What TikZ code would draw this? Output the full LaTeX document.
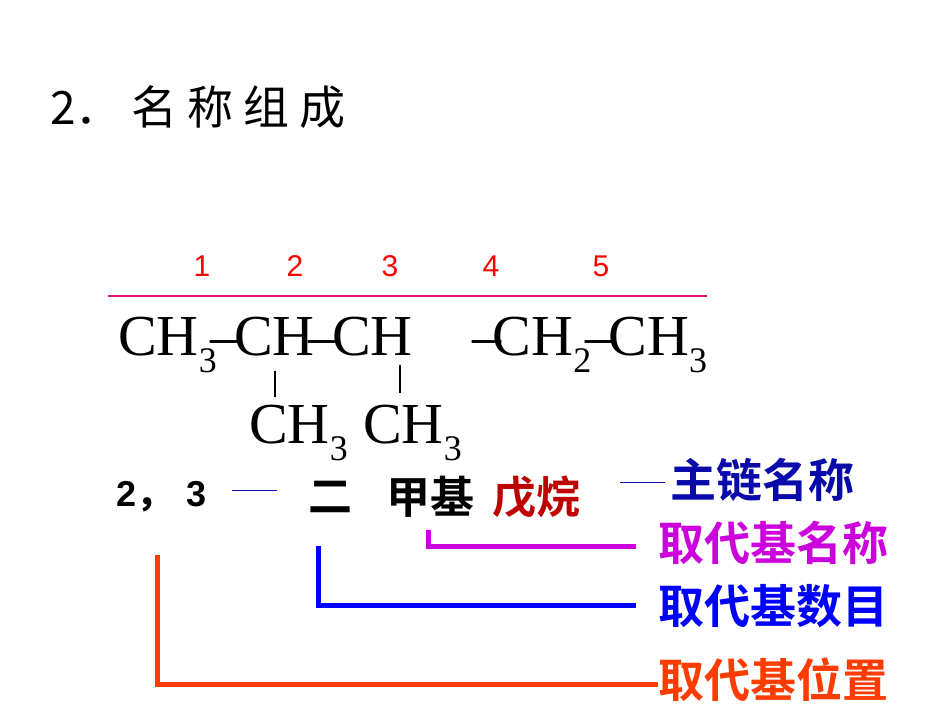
\documentclass[tikz,border=0pt]{standalone}
\usepackage{fontspec}
\setmainfont{Liberation Serif}
\newfontfamily\cjk{Noto Sans CJK SC}
\newfontfamily\cjkb{Noto Sans CJK SC Bold}
\newfontfamily\lsans{Liberation Sans}
\newcommand{\sbs}[1]{\raisebox{-0.3em}{\fontsize{36}{36}\selectfont #1}}
\newcommand{\bnd}{\kern-0.1em–\kern-0.1em}
\definecolor{dkblue}{RGB}{10,10,170}
\definecolor{mag}{RGB}{204,0,220}
\definecolor{orng}{RGB}{255,60,0}
\definecolor{dkred}{RGB}{190,0,0}
\definecolor{pinkl}{RGB}{230,20,120}
\tikzset{x=1pt,y=-1pt,
 num/.style={text=red,font=\lsans\fontsize{30}{30}\selectfont,inner sep=0},
 chem/.style={anchor=base west,inner sep=0,font=\fontsize{58}{58}\selectfont},
 lab/.style={anchor=west,inner sep=0,font=\cjkb\fontsize{46}{46}\selectfont},
 nm/.style={anchor=west,inner sep=0,font=\cjkb\fontsize{44}{44}\selectfont},
 bar/.style={line width=5pt}}
\begin{document}
\begin{tikzpicture}
\useasboundingbox (0,0) rectangle (950,713);
\node[anchor=west,inner sep=0,font=\cjk\fontsize{46}{46}\selectfont] (title) at (50,107) {2．\hspace{10pt}名\hspace{10pt}称\hspace{10pt}组\hspace{10pt}成};
\foreach \x/\n in {202/1,295/2,390/3,491/4,601/5} \node[num] (n\n) at (\x,266) {\n};
\coordinate (pl) at (108,296); \coordinate (pr) at (707,296);
\draw[pinkl,line width=2.5pt] (pl) -- (pr);
\node[chem] (c1) at (118,355) {CH\sbs{3}\bnd CH\bnd CH};
\node[chem] (c4) at (478,355) {\kern-0.1em–\kern-0.15em CH\sbs{2}\bnd CH\sbs{3}};
\node[chem] (m1) at (249,443) {CH\sbs{3}};
\node[chem] (m2) at (363,443) {CH\sbs{3}};
\coordinate (b1a) at (275,371); \coordinate (b1b) at (275,397);
\coordinate (b2a) at (400,365); \coordinate (b2b) at (400,393);
\draw[line width=1.2pt] (b1a) -- (b1b) (b2a) -- (b2b);
\node[anchor=west,inner sep=0,font=\lsans\bfseries\fontsize{36}{36}\selectfont] (pos) at (116,497) {2{\cjkb ，}\hspace{14pt}3};
\node[nm] (er) at (308,497) {二};
\node[nm] (jj) at (386,497) {甲基};
\node[nm,text=dkred] (wu) at (492,497) {戊烷};
\node[lab,text=dkblue] (zl) at (670,480) {主链名称};
\node[lab,text=mag] (qm) at (658,543) {取代基名称};
\node[lab,text=blue] (qs) at (658,606) {取代基数目};
\node[lab,text=orng] (qw) at (658,680) {取代基位置};
\draw[dkblue,line width=0.7pt] (232,490) -- (277,490);
\draw[dkblue,line width=0.7pt] (620,482) -- (665,482);
\draw[bar,mag] (428,530) -- (428,546) -- (636,546);
\draw[bar,blue] (318,546) -- (318,605) -- (636,605);
\draw[bar,orng] (157,555) -- (157,684) -- (qw.west|-0,684);
\end{tikzpicture}
\end{document}
